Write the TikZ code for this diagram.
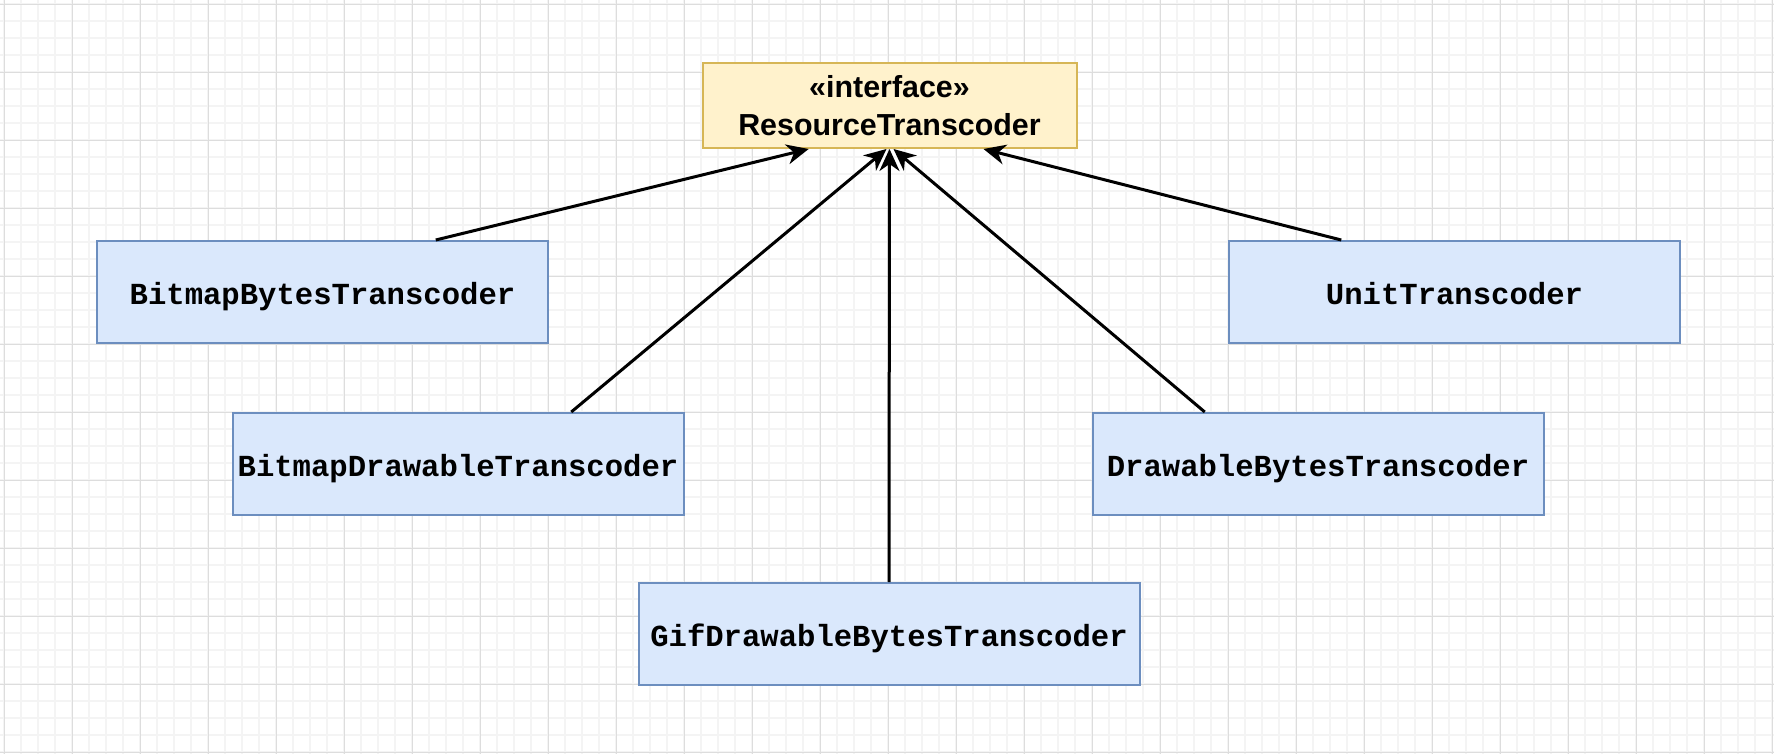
\documentclass[tikz,border=0pt]{standalone}
\usepackage{fontspec}
\setmainfont{Liberation Sans}
\setsansfont{Liberation Sans}
\setmonofont{Liberation Mono}
\usepackage{xcolor}
\definecolor{cls_fill}{HTML}{DAE8FC}
\definecolor{cls_draw}{HTML}{6C8EBF}
\definecolor{ifc_fill}{HTML}{FFF2CC}
\definecolor{ifc_draw}{HTML}{D6B656}
\definecolor{grid_major}{HTML}{DDDDDD}
\definecolor{grid_minor}{HTML}{F4F4F4}
\usepackage{tikz}
\usetikzlibrary{arrows.meta, positioning, calc}

\tikzset{
  classbox/.style={draw=cls_draw, fill=cls_fill, line width=1pt,
    minimum width=225.5pt, minimum height=51pt, inner sep=0pt,
    text height=12.5pt, text depth=0pt,
    font=\ttfamily\bfseries\fontsize{15.3}{18}\selectfont},
  ifcbox/.style={draw=ifc_draw, fill=ifc_fill, line width=1pt,
    minimum width=187pt, minimum height=42.5pt, inner sep=0pt,
    align=center, font=\sffamily\bfseries\fontsize{15.2}{19}\selectfont},
  implements/.style={draw=black, line width=1.5pt,
    -{Stealth[length=11pt, width=10pt, inset=3.5pt]}},
}

\begin{document}
\begin{tikzpicture}[x=0.5pt, y=-0.5pt]
  \useasboundingbox (0,0) rectangle (1774,754);
  \fill[white] (0,0) rectangle (1774,754);
  % background grid
  \foreach \i in {0,...,104}
    \draw[grid_minor, line width=1pt] ({4.3+17*\i},0) -- ({4.3+17*\i},754);
  \foreach \j in {0,...,44}
    \draw[grid_minor, line width=1pt] (0,{4.3+17*\j}) -- (1774,{4.3+17*\j});
  \foreach \i in {0,...,26}
    \draw[grid_major, line width=0.6pt] ({4.3+68*\i},0) -- ({4.3+68*\i},754);
  \foreach \j in {0,...,11}
    \draw[grid_major, line width=0.6pt] (0,{4.3+68*\j}) -- (1774,{4.3+68*\j});

  % interface
  \node[ifcbox] (transcoder) at (889.5,105.5)
    {«interface»\\ResourceTranscoder};

  % implementations
  \node[classbox] (bitmapBytes) at (322.5,292) {BitmapBytesTranscoder};
  \node[classbox] (unit) at (1454.5,292) {UnitTranscoder};
  \node[classbox] (bitmapDrawable) at (458,464) {BitmapDrawableTranscoder};
  \node[classbox] (drawableBytes) at (1318,464) {DrawableBytesTranscoder};
  \node[classbox, minimum width=250.5pt] (gifDrawable) at (889,634)
    {GifDrawableBytesTranscoder};

  % realisations
  \draw[implements] ($(bitmapBytes.north west)!0.75!(bitmapBytes.north east)$)
    -- ($(transcoder.south west)!0.285!(transcoder.south east)$);
  \draw[implements] ($(bitmapDrawable.north west)!0.75!(bitmapDrawable.north east)$)
    -- ($(transcoder.south)+(-3,0)$);
  \draw[implements] (gifDrawable.north) -- (transcoder.south);
  \draw[implements] ($(drawableBytes.north west)!0.25!(drawableBytes.north east)$)
    -- ($(transcoder.south)+(4,0)$);
  \draw[implements] ($(unit.north west)!0.25!(unit.north east)$)
    -- ($(transcoder.south west)!0.75!(transcoder.south east)$);
\end{tikzpicture}
\end{document}
